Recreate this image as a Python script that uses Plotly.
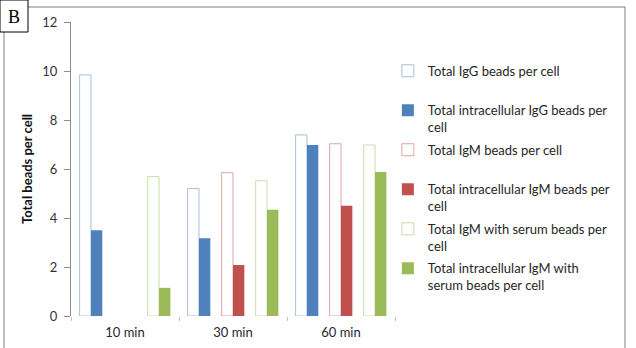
import plotly.graph_objects as go

categories = ["10 min", "30 min", "60 min"]
total_igg = [9.84, 5.2, 7.39]
intra_igg = [3.5, 3.17, 6.98]
total_igm = [None, 5.85, 7.03]
intra_igm = [None, 2.08, 4.5]
total_igm_serum = [5.69, 5.52, 6.98]
intra_igm_serum = [1.15, 4.34, 5.88]

series = [
    ("Total IgG beads per cell<br>\u00a0", total_igg, "white", "#A7BFDD", 0),
    ("Total intracellular IgG beads per<br>cell", intra_igg, "#4F81BD", "#4F81BD", 1),
    ("Total IgM beads per cell<br>\u00a0", total_igm, "white", "#DFA5A4", 3),
    ("Total intracellular IgM beads per<br>cell", intra_igm, "#C0504D", "#C0504D", 4),
    ("Total IgM with serum beads per<br>cell", total_igm_serum, "white", "#CCDCA8", 6),
    ("Total intracellular IgM with<br>serum beads per cell", intra_igm_serum, "#9BBB59", "#9BBB59", 7),
]

slot = 0.105
start = -0.42

fig = go.Figure()
for i, (name, vals, fill, line, k) in enumerate(series):
    outline = fill == "white"
    fig.add_trace(go.Bar(
        x=categories, y=vals, name=name, legendgroup="g%d" % i,
        width=slot, offset=start + k * slot,
        marker=dict(color=fill, line=dict(color=line, width=1 if outline else 0)),
    ))

fig.update_layout(
    width=636, height=348,
    margin=dict(l=71, r=241, t=22, b=32, autoexpand=False),
    barmode="overlay",
    plot_bgcolor="white", paper_bgcolor="white",
    font=dict(family="Lato", size=13, color="#333333"),
    showlegend=True,
    legend=dict(
        x=0.978, xanchor="left", y=0.885, yanchor="top",
        valign="top", tracegroupgap=2.7,
        font=dict(family="Lato", size=13, color="#262626"),
        bgcolor="rgba(0,0,0,0)",
    ),
    xaxis=dict(
        type="category", range=[-0.5, 2.5], automargin=False,
        showline=False, ticks="outside", tickson="boundaries",
        ticklen=4, tickcolor="#bfbfbf", showgrid=False,
        ticklabelstandoff=7,
        tickfont=dict(family="Lato", size=13, color="#262626"),
    ),
    yaxis=dict(
        range=[0, 12], dtick=2, showgrid=False, zeroline=False, automargin=False,
        showline=True, linecolor="#8c8c8c", linewidth=1,
        ticks="outside", ticklen=6, tickcolor="#8c8c8c",
        ticklabelstandoff=4,
        tickfont=dict(family="Lato", size=13, color="#333333"),
        title=dict(text="<b>Total beads per cell</b>", standoff=6,
                   font=dict(family="Lato", size=13, color="#111111")),
    ),
    shapes=[
        dict(type="rect", xref="paper", yref="paper",
             x0=(4 - 71) / 324, x1=(625 - 71) / 324,
             y0=(316 - 400) / 294, y1=(316 - 7) / 294,
             line=dict(color="#7f7f7f", width=1), fillcolor="rgba(0,0,0,0)", layer="below"),
        dict(type="rect", xref="paper", yref="paper",
             x0=(0 - 71) / 324, x1=(28 - 71) / 324,
             y0=(316 - 32) / 294, y1=(316 - 0) / 294,
             line=dict(color="#000000", width=1), fillcolor="white"),
    ],
    annotations=[
        dict(text="B", xref="paper", yref="paper",
             x=(14 - 71) / 324, y=(316 - 17) / 294,
             showarrow=False, xanchor="center", yanchor="middle",
             font=dict(family="Liberation Serif", size=18, color="#000000")),
    ],
)

fig.write_html("out.html")
